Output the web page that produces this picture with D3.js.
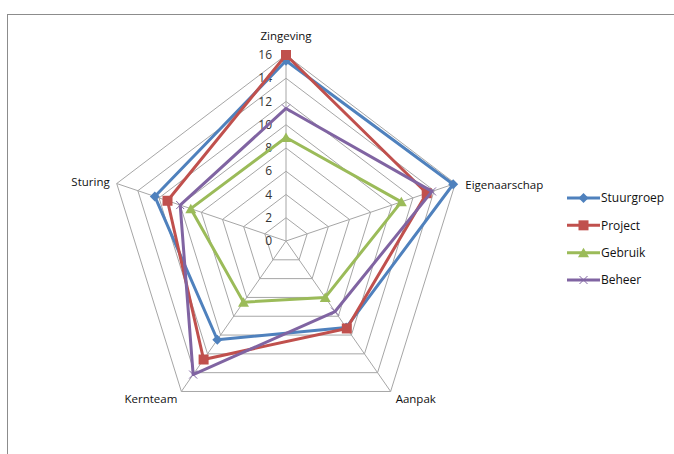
<!DOCTYPE html>
<html>
<head>
<meta charset="utf-8">
<script src="https://cdn.jsdelivr.net/npm/d3@7"></script>
<style>
  body { margin: 0; background: #fff; }
  svg { display: block; font-family: "Open Sans", "Noto Sans", sans-serif; }
</style>
</head>
<body>
<svg width="674" height="454"></svg>
<script>
// categories, clockwise from the top
const categories = ["Zingeving", "Eigenaarschap", "Aanpak", "Kernteam", "Sturing"];
const seriesNames = ["Stuurgroep", "Project", "Gebruik", "Beheer"];
const stuurgroep = [15.5, 15.8, 9.2, 10.5, 12.4];
const project    = [16.0, 13.3, 9.3, 12.6, 11.2];
const gebruik    = [8.9, 10.9, 6.0, 6.5, 9.0];
const beheer     = [11.4, 13.8, 7.5, 14.2, 10.0];
const ticks = [0, 2, 4, 6, 8, 10, 12, 14, 16];

const colors = ["#4F81BD", "#C0504D", "#9BBB59", "#8064A2"];
const markers = ["diamond", "square", "triangle", "cross"];
const allSeries = [stuurgroep, project, gebruik, beheer];

const svg = d3.select("svg");

// chart frame (only left and top visible)
svg.append("rect")
   .attr("x", 7.5).attr("y", 14.5)
   .attr("width", 700).attr("height", 500)
   .attr("fill", "none").attr("stroke", "#8c8c8c").attr("stroke-width", 1);

const attr_area = { cx: 286, cy: 241, rx: 178, ry: 186 };

const scR = d3.scaleLinear().domain([0, 16]).range([0, 1]);
const scA = d3.scalePoint().domain(categories).range([0, 2 * Math.PI * 4 / 5]);

function pt(cat, v) {
    let a = scA(cat);
    return [attr_area.cx + scR(v) * attr_area.rx * Math.sin(a),
            attr_area.cy - scR(v) * attr_area.ry * Math.cos(a)];
}

// grid rings
const grid = svg.append("g");
ticks.slice(1).forEach(t => {
    grid.append("path")
        .attr("d", d3.line()(categories.map(c => pt(c, t))) + "Z")
        .attr("fill", "none")
        .attr("stroke", "#a6a6a6")
        .attr("stroke-width", 1);
});
// spokes
categories.forEach(c => {
    let p = pt(c, 16);
    grid.append("line")
        .attr("x1", attr_area.cx).attr("y1", attr_area.cy)
        .attr("x2", p[0]).attr("y2", p[1])
        .attr("stroke", "#a6a6a6").attr("stroke-width", 1);
});

// tick labels on the top axis
svg.append("g").selectAll("text")
   .data(ticks).enter().append("text")
   .attr("x", attr_area.cx - 14)
   .attr("y", d => pt(categories[0], d)[1])
   .attr("dy", "0.35em")
   .attr("text-anchor", "end")
   .attr("font-size", 12)
   .attr("fill", "#333")
   .text(d => d);

// category labels
const labelPos = {
    "Zingeving":     { dx: 0, dy: -19, anchor: "middle" },
    "Eigenaarschap": { dx: 10, dy: 1, anchor: "start" },
    "Aanpak":        { dx: 5, dy: 7, anchor: "start" },
    "Kernteam":      { dx: -4, dy: 7, anchor: "end" },
    "Sturing":       { dx: -7, dy: -2, anchor: "end" }
};
svg.append("g").selectAll("text")
   .data(categories).enter().append("text")
   .attr("x", d => pt(d, 16)[0] + labelPos[d].dx)
   .attr("y", d => pt(d, 16)[1] + labelPos[d].dy)
   .attr("dy", "0.35em")
   .attr("text-anchor", d => labelPos[d].anchor)
   .attr("font-size", 11.5)
   .attr("fill", "#111")
   .text(d => d);

function drawMarker(g, type, x, y, color) {
    if (type === "diamond") {
        g.append("path").attr("d", `M${x},${y - 5}L${x + 5},${y}L${x},${y + 5}L${x - 5},${y}Z`).attr("fill", color);
    } else if (type === "square") {
        g.append("rect").attr("x", x - 5).attr("y", y - 5).attr("width", 10).attr("height", 10).attr("fill", color);
    } else if (type === "triangle") {
        g.append("path").attr("d", `M${x},${y - 5}L${x + 5.5},${y + 4.5}L${x - 5.5},${y + 4.5}Z`).attr("fill", color);
    } else {
        g.append("path").attr("d", `M${x - 4},${y - 4}L${x + 4},${y + 4}M${x - 4},${y + 4}L${x + 4},${y - 4}`)
         .attr("stroke", color).attr("stroke-width", 1).attr("fill", "none");
    }
}

// series
allSeries.forEach((vals, i) => {
    let g = svg.append("g");
    let pts = categories.map((c, j) => pt(c, vals[j]));
    g.append("path")
     .attr("d", d3.line()(pts) + "Z")
     .attr("fill", "none")
     .attr("stroke", colors[i])
     .attr("stroke-width", 3)
     .attr("stroke-linejoin", "round");
    pts.forEach(p => drawMarker(g, markers[i], p[0], p[1], colors[i]));
});

// legend
const legY = d3.scalePoint().domain(seriesNames).range([198, 280]);
const legend = svg.append("g");
seriesNames.forEach((s, i) => {
    let y = legY(s);
    legend.append("line")
          .attr("x1", 567).attr("x2", 600).attr("y1", y).attr("y2", y)
          .attr("stroke", colors[i]).attr("stroke-width", 3);
    drawMarker(legend, markers[i], 583.5, y, colors[i]);
    legend.append("text")
          .attr("x", 601).attr("y", y).attr("dy", "0.35em")
          .attr("font-size", 12).attr("fill", "#111")
          .text(s);
});
</script>
</body>
</html>
